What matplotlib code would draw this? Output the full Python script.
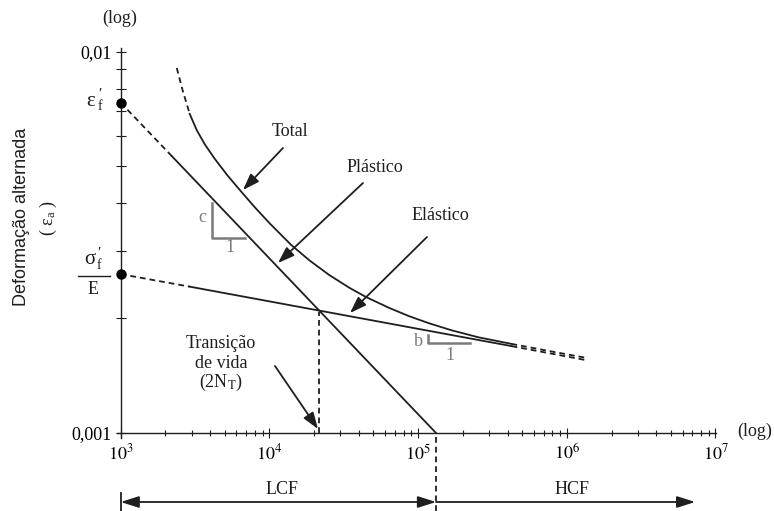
import matplotlib
matplotlib.use('Agg')
import matplotlib.pyplot as plt
from matplotlib.ticker import FixedLocator, FixedFormatter, LogLocator, NullFormatter

plt.rcParams['font.family'] = ['Liberation Serif', 'DejaVu Serif']
plt.rcParams['mathtext.fontset'] = 'stix'

# ---------------- data ----------------
x_major = [1e3, 1e4, 1e5, 1e6, 1e7]
x_major_labels = [r'$10^{3}$', r'$10^{4}$', r'$10^{5}$', r'$10^{6}$', r'$10^{7}$']
y_major = [0.001, 0.01]
y_major_labels = ['0,001', '0,01']

eps_f = 0.00735        # ε'f at N = 10^3
sigf_E = 0.00261       # σ'f / E at N = 10^3

# plastic line: dashed part then solid part
plastic_dash_N = [1000, 2210]
plastic_dash_eps = [0.00735, 0.00532]
plastic_solid_N = [2210, 132000]
plastic_solid_eps = [0.00532, 0.001]

# elastic line: dashed start, solid middle, dashed end
elastic_dash1_N = [1000, 2910]
elastic_dash1_eps = [0.00261, 0.00242]
elastic_solid_N = [2910, 425000]
elastic_solid_eps = [0.00242, 0.00169]
elastic_dash2_N = [425000, 1330000]
elastic_dash2_eps = [0.00169, 0.001554]

# total curve
total_dash1_N = [2383, 2614, 2912]
total_dash1_eps = [0.009065, 0.007897, 0.006869]
total_solid_N = [2912, 3244, 3669, 4281, 5233, 6394, 7935, 10000, 14040, 18530, 25230,
                 34350, 44640, 63640, 86640, 117900, 168200, 255000, 424200]
total_solid_eps = [0.006869, 0.006230, 0.005723, 0.005243, 0.004734, 0.004317, 0.003917,
                   0.003553, 0.003111, 0.002839, 0.002597, 0.002406, 0.002273, 0.002130,
                   0.002026, 0.001941, 0.001859, 0.001782, 0.001713]
total_dash2_N = [424200, 750700, 1328000]
total_dash2_eps = [0.001713, 0.001642, 0.001576]

# transition life and LCF/HCF boundary
N_T = 21700
eps_T = 0.002077
N_B = 132000
N_HCF_end = 7.3e6

# slope triangles
tri_c_N = [4090, 4090, 6900]
tri_c_eps = [0.004012, 0.003246, 0.003246]
tri_b_N = [116000, 116000, 225000]
tri_b_eps = [0.001807, 0.001722, 0.001722]

# ---------------- figure ----------------
W, H = 774, 511
fig = plt.figure(figsize=(W / 100, H / 100), dpi=100)
x0, x1 = 120.7, 715.5
y0, y1 = 433.0, 51.7
ax = fig.add_axes([x0 / W, (H - y0) / H, (x1 - x0) / W, (y0 - y1) / H])
ax.set_xscale('log')
ax.set_yscale('log')
ax.set_xlim(1e3, 1e7)
ax.set_ylim(1e-3, 1e-2)
ax.patch.set_alpha(0)

C = '#1e1e1e'
G = '#7a7a7a'
LW = 1.3
DASH = (3.2, 2.2)

for s in ax.spines.values():
    s.set_visible(False)
ax.plot([0, 0], [-0.014, 1.01], transform=ax.transAxes, color=C, lw=1.0, clip_on=False)
ax.plot([-0.007, 1.0], [0, 0], transform=ax.transAxes, color=C, lw=1.0, clip_on=False)

ax.xaxis.set_major_locator(FixedLocator(x_major))
ax.xaxis.set_major_formatter(FixedFormatter(x_major_labels))
ax.xaxis.set_minor_locator(LogLocator(base=10, subs=range(2, 10)))
ax.xaxis.set_minor_formatter(NullFormatter())
ax.yaxis.set_major_locator(FixedLocator(y_major))
ax.yaxis.set_major_formatter(FixedFormatter(y_major_labels))
ax.yaxis.set_minor_locator(LogLocator(base=10, subs=range(2, 10)))
ax.yaxis.set_minor_formatter(NullFormatter())
ax.tick_params(axis='x', which='major', direction='inout', length=7, width=0.8,
               color=C, labelsize=13, pad=4)
ax.tick_params(axis='x', which='minor', direction='inout', length=4.5, width=0.8, color=C)
ax.tick_params(axis='y', which='both', direction='inout', length=7, width=0.8,
               color=C, labelsize=13, pad=3)

# curves
ax.plot(plastic_dash_N, plastic_dash_eps, color=C, lw=LW, dashes=DASH)
ax.plot(plastic_solid_N, plastic_solid_eps, color=C, lw=LW)
ax.plot(elastic_dash1_N, elastic_dash1_eps, color=C, lw=LW, dashes=DASH)
ax.plot(elastic_solid_N, elastic_solid_eps, color=C, lw=LW)
ax.plot(elastic_dash2_N, elastic_dash2_eps, color=C, lw=LW, dashes=DASH)
ax.plot(total_dash1_N, total_dash1_eps, color=C, lw=LW, dashes=DASH)
ax.plot(total_solid_N, total_solid_eps, color=C, lw=LW, solid_joinstyle='round')
ax.plot(total_dash2_N, total_dash2_eps, color=C, lw=LW, dashes=DASH)

ax.plot([1e3, 1e3], [eps_f, sigf_E], 'o', color='black', ms=6.5, clip_on=False, zorder=6,
        linestyle='none')

# transition dashed line
ax.plot([N_T, N_T], [1e-3, eps_T], color=C, lw=LW, dashes=DASH)

# slope triangles
ax.plot(tri_c_N, tri_c_eps, color=G, lw=1.8)
ax.plot(tri_b_N, tri_b_eps, color=G, lw=1.8)

# LCF / HCF markers below axis
yb = (y0 - 502) / (y0 - y1)
ax.axvline(N_B, ymin=(y0 - 511) / (y0 - y1), ymax=0, color=C, lw=LW, dashes=DASH,
           clip_on=False)
ax.axvline(1e3, ymin=(y0 - 511) / (y0 - y1), ymax=(y0 - 493) / (y0 - y1), color=C,
           lw=1.3, clip_on=False)
aprops = dict(lw=1.3, color=C, shrinkA=0, shrinkB=0, mutation_scale=10)
ax.annotate('', xy=(1e3, yb), xycoords=('data', 'axes fraction'),
            xytext=(N_B, yb), textcoords=('data', 'axes fraction'),
            arrowprops=dict(arrowstyle='<|-|>,head_length=1.1,head_width=0.35', **aprops),
            annotation_clip=False)
ax.annotate('', xy=(N_HCF_end, yb), xycoords=('data', 'axes fraction'),
            xytext=(N_B, yb), textcoords=('data', 'axes fraction'),
            arrowprops=dict(arrowstyle='-|>,head_length=1.1,head_width=0.35', **aprops),
            annotation_clip=False)


def ftxt(x, y, s, **kw):
    kw.setdefault('ha', 'center')
    kw.setdefault('va', 'center')
    kw.setdefault('fontsize', 13)
    kw.setdefault('color', C)
    fig.text(x / W, 1 - y / H, s, **kw)


def farrow(tail, tip):
    ax.annotate('', xy=(tip[0], H - tip[1]), xycoords='figure pixels',
                xytext=(tail[0], H - tail[1]), textcoords='figure pixels',
                arrowprops=dict(arrowstyle='-|>,head_length=1.0,head_width=0.35', **aprops))


# labels and arrows
ftxt(290, 132, 'Total')
farrow((283, 148), (243, 190))
ftxt(375, 168, 'Plástico')
farrow((363, 183), (278, 263))
ftxt(440, 216, 'Elástico')
farrow((427, 237), (350, 313))
ftxt(221, 343, 'Transição')
ftxt(221, 363, 'de vida')
ftxt(221, 382, r'(2N$_{\mathrm{T}}$)')
farrow((275, 366), (318, 429))
ftxt(202, 218, 'c', color=G)
ftxt(230, 248, '1', color=G)
ftxt(418, 342, 'b', color=G)
ftxt(450, 355, '1', color=G)
ftxt(282, 490, 'LCF')
ftxt(572, 490, 'HCF')
ftxt(120, 18, '(log)')
ftxt(755, 431, '(log)')

# y-axis special labels (epsilon'_f and sigma'_f / E)
ftxt(91, 101, 'ε', fontsize=15)
ftxt(100, 106, 'f', fontsize=10)
ftxt(100, 94, '′', fontsize=11)
ftxt(90, 260, 'σ', fontsize=15)
ftxt(99, 265, 'f', fontsize=10)
ftxt(99, 253, '′', fontsize=11)
fig.add_artist(plt.Line2D([78 / W, 110 / W], [1 - 276 / H, 1 - 276 / H], color=C, lw=1.0))
ftxt(93, 290, 'E')

# y-axis title
ftxt(22, 217, 'Deformação alternada', rotation=90,
     family=['Liberation Sans', 'DejaVu Sans'])
ftxt(48, 218, r'( $\mathregular{ε_a}$ )', rotation=90,
     family=['Liberation Serif', 'DejaVu Serif'])

fig.savefig('out.png', dpi=100)
